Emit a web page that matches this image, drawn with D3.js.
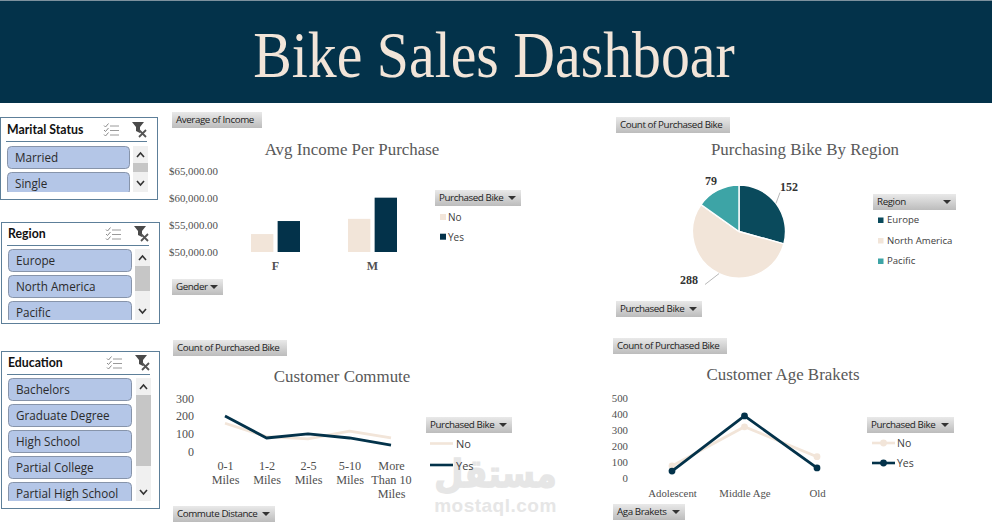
<!DOCTYPE html>
<html>
<head>
<meta charset="utf-8">
<title>Bike Sales Dashboard</title>
<script src="https://cdn.jsdelivr.net/npm/d3@7/dist/d3.min.js"></script>
<style>
  html, body { margin: 0; padding: 0; background: #fff; overflow: hidden; }
  svg { display: block; }
  .ui { font-family: "Open Sans", sans-serif; }
  .serif { font-family: "Liberation Serif", serif; }
</style>
</head>
<body>
<svg id="board" width="992" height="527"></svg>
<script>
// Dashboard content
const dashboardTitle = "Bike Sales Dashboar";
const purchaseKeys = ["No", "Yes"];

const genders = ["F", "M"];
const incomeNo = [53300, 56100];
const incomeYes = [55700, 60000];
const incomeTicks = [50000, 55000, 60000, 65000];

const regions = ["Europe", "North America", "Pacific"];
const regionCounts = [152, 288, 79];

const commuteLabels = ["0-1 Miles", "1-2 Miles", "2-5 Miles", "5-10 Miles", "More Than 10 Miles"];
const commuteNo = [160, 85, 72, 115, 78];
const commuteYes = [200, 77, 100, 77, 37];
const commuteTicks = [0, 100, 200, 300];

const ageLabels = ["Adolescent", "Middle Age", "Old"];
const ageNo = [77, 322, 135];
const ageYes = [45, 390, 65];
const ageTicks = [0, 100, 200, 300, 400, 500];

const maritalItems = ["Married", "Single"];
const regionItems = ["Europe", "North America", "Pacific"];
const educationItems = ["Bachelors", "Graduate Degree", "High School", "Partial College", "Partial High School"];

// Palette
const NAVY = "#03324a", CREAM = "#f2e5d9", TEAL_DARK = "#0a4a5c", TEAL = "#3da4a6";
const TITLE_GREY = "#595959", AXIS_GREY = "#505050";

const svg = d3.select("#board");
const defs = svg.append("defs");

const btnGrad = defs.append("linearGradient").attr("id", "btn").attr("x1", 0).attr("x2", 0).attr("y1", 0).attr("y2", 1);
btnGrad.append("stop").attr("offset", "0%").attr("stop-color", "#e9e9e9");
btnGrad.append("stop").attr("offset", "100%").attr("stop-color", "#bcbcbc");

// Banner
svg.append("rect").attr("width", 992).attr("height", 103).attr("fill", NAVY);
svg.append("rect").attr("width", 992).attr("height", 1).attr("fill", "#7d919e");
svg.append("text").attr("class", "serif")
  .attr("transform", "translate(494,77) scale(1,1.12)").attr("text-anchor", "middle")
  .attr("font-size", 57.8).attr("fill", CREAM)
  .text(dashboardTitle);

// Site watermark, underneath the charts
const mark = svg.append("g").attr("fill", "#e6e6e6");
mark.append("text").attr("transform", "translate(495.5,487) scale(1,1.15)").attr("text-anchor", "middle")
  .attr("font-family", "DejaVu Sans").attr("font-weight", "bold").attr("font-size", 33.5)
  .attr("stroke", "#e6e6e6").attr("stroke-width", 1.2)
  .text("مستقل");
mark.append("text").attr("x", 495.5).attr("y", 512).attr("text-anchor", "middle")
  .attr("font-family", "Liberation Sans").attr("font-weight", "bold").attr("font-size", 19)
  .attr("letter-spacing", 0.5).text("mostaql.com");

// Grey field button of a pivot chart, with optional drop arrow
function fieldButton(x, y, w, label, arrow) {
  const g = svg.append("g").attr("transform", `translate(${x},${y})`);
  g.append("rect").attr("width", w).attr("height", 16).attr("fill", "url(#btn)");
  g.append("text").attr("class", "ui").attr("x", 4).attr("y", 11)
    .attr("font-size", 9.8).attr("letter-spacing", -0.42).attr("fill", "#222").text(label);
  if (arrow) {
    const ax = w - 9;
    g.append("path").attr("d", `M${ax - 4},6 h8 l-4,4 z`).attr("fill", "#333");
  }
}

function chartTitle(x, y, label) {
  svg.append("text").attr("class", "serif").attr("x", x).attr("y", y)
    .attr("text-anchor", "middle").attr("font-size", 16.9).attr("fill", TITLE_GREY).text(label);
}

// Axis with no domain or tick marks, labels only
function styleAxis(g, size) {
  g.select(".domain").remove();
  g.selectAll(".tick line").remove();
  g.selectAll("text").attr("font-family", "Liberation Serif").attr("font-size", size).attr("fill", AXIS_GREY);
}

function legendText(x, y, label, size) {
  svg.append("text").attr("class", "ui").attr("x", x).attr("y", y)
    .attr("dominant-baseline", "central").attr("font-size", size).attr("fill", "#404040").text(label);
}

// Slicer panel
function slicer({ x, y, w, h, title, items, pillX, pillW, firstY, listBottom, ruleY, barX, thumb }) {
  const clipId = "clip" + title.replace(/\W/g, "");
  svg.append("rect").attr("x", x + 0.5).attr("y", y + 0.5).attr("width", w).attr("height", h)
    .attr("fill", "#fff").attr("stroke", "#5d7f99").attr("stroke-width", 1);
  svg.append("text").attr("x", pillX).attr("y", ruleY - 7)
    .attr("font-family", "Lato").attr("font-weight", "bold").attr("font-size", 12.3).attr("fill", "#111").text(title);
  svg.append("line").attr("x1", pillX - 1).attr("x2", barX + 14).attr("y1", ruleY + 0.5).attr("y2", ruleY + 0.5)
    .attr("stroke", "#5d7f99");

  // Multi-select icon
  const ix = barX - 29, iy = ruleY - 17;
  const icon = svg.append("g").attr("transform", `translate(${ix},${iy})`);
  [1.5, 6, 10.5].forEach(dy => {
    icon.append("path").attr("d", `M0,${dy} l1.5,1.5 l3,-3.5`).attr("fill", "none").attr("stroke", "#8a8a8a").attr("stroke-width", 1);
    icon.append("line").attr("x1", 6).attr("x2", 15).attr("y1", dy + 0.5).attr("y2", dy + 0.5).attr("stroke", "#9a9a9a");
  });

  // Clear-filter icon
  const cf = svg.append("g").attr("transform", `translate(${barX - 1},${iy - 2})`);
  cf.append("path").attr("d", "M0,0 h12 l-4,5 v6 l-4,-2 v-4 z").attr("fill", "#4a4a4a");
  cf.append("path").attr("d", "M7,8 l7,7 M14,8 l-7,7").attr("stroke", "#555").attr("stroke-width", 1.8);

  // Buttons, cut off at the bottom of the list area
  defs.append("clipPath").attr("id", clipId).append("rect")
    .attr("x", x).attr("y", firstY - 1).attr("width", w).attr("height", listBottom - firstY + 1);
  const list = svg.append("g").attr("clip-path", `url(#${clipId})`);
  const pillH = 23, pitch = 26;
  const row = list.selectAll("g").data(items).join("g")
    .attr("transform", (d, i) => `translate(${pillX},${firstY + i * pitch})`);
  row.append("rect").attr("x", 0.5).attr("y", 0.5).attr("width", pillW).attr("height", pillH - 1).attr("rx", 4)
    .attr("fill", "#b4c6e7").attr("stroke", "#8794aa");
  row.append("text").attr("class", "ui").attr("x", 8).attr("y", 16)
    .attr("font-size", 11.7).attr("fill", "#2b2b2b").text(d => d);

  // Scrollbar
  svg.append("rect").attr("x", barX).attr("y", firstY).attr("width", 15).attr("height", listBottom - firstY).attr("fill", "#f0f0f0");
  svg.append("rect").attr("x", barX).attr("y", thumb[0]).attr("width", 15).attr("height", thumb[1] - thumb[0]).attr("fill", "#c6c6c6");
  svg.append("path").attr("d", `M${barX + 4},${firstY + 11} l3.5,-4 l3.5,4`).attr("fill", "none").attr("stroke", "#333").attr("stroke-width", 1.6);
  svg.append("path").attr("d", `M${barX + 4},${listBottom - 11} l3.5,4 l3.5,-4`).attr("fill", "none").attr("stroke", "#333").attr("stroke-width", 1.6);
}

slicer({ x: 0, y: 117, w: 157, h: 82, title: "Marital Status", items: maritalItems, pillX: 7, pillW: 122, firstY: 146, listBottom: 192, ruleY: 141, barX: 133, thumb: [163, 172] });
slicer({ x: 1, y: 222, w: 158, h: 101, title: "Region", items: regionItems, pillX: 8, pillW: 123, firstY: 249, listBottom: 320, ruleY: 245, barX: 135, thumb: [266, 291] });
slicer({ x: 1, y: 351, w: 158, h: 157, title: "Education", items: educationItems, pillX: 8, pillW: 123, firstY: 378, listBottom: 501, ruleY: 374, barX: 136, thumb: [395, 466] });

// ---- Average income: clustered columns ----
fieldButton(172, 112, 90, "Average of Income");
chartTitle(352, 155, "Avg Income Per Purchase");

const incomeY = d3.scaleLinear().domain([50000, 65000]).range([252, 170.5]);
const genderX = d3.scaleBand().domain(genders).range([227, 421]);
const keyX = d3.scaleBand().domain(purchaseKeys).range([-24.5, 24.5]).paddingInner(0.16);

svg.append("g").attr("transform", "translate(224,0)")
  .call(d3.axisLeft(incomeY).tickValues(incomeTicks).tickFormat(d3.format("$,.2f")).tickPadding(0))
  .call(styleAxis, 10.9);

const incomeRows = genders.map((g, i) => ({ g, No: incomeNo[i], Yes: incomeYes[i] }));
const incomeGroups = svg.append("g").selectAll("g").data(incomeRows).join("g")
  .attr("transform", d => `translate(${genderX(d.g) + genderX.bandwidth() / 2},0)`);
incomeGroups.selectAll("rect").data(d => purchaseKeys.map(k => ({ k, v: d[k] }))).join("rect")
  .attr("x", d => keyX(d.k)).attr("width", keyX.bandwidth())
  .attr("y", d => incomeY(d.v)).attr("height", d => incomeY(50000) - incomeY(d.v))
  .attr("fill", d => d.k === "No" ? CREAM : NAVY);

svg.append("g").attr("transform", "translate(0,249)")
  .call(d3.axisBottom(genderX).tickPadding(6))
  .call(styleAxis, 12)
  .call(g => g.selectAll("text").attr("font-weight", "bold"));

fieldButton(172, 279, 51, "Gender", true);
fieldButton(435, 190, 86, "Purchased Bike", true);
purchaseKeys.forEach((k, i) => {
  const cy = 217 + i * 19.7;
  svg.append("rect").attr("x", 440).attr("y", cy - 3).attr("width", 6).attr("height", 6).attr("fill", k === "No" ? CREAM : NAVY);
  legendText(448, cy, k, 10);
});

// ---- Region pie ----
fieldButton(616, 117, 114, "Count of Purchased Bike");
chartTitle(805, 155, "Purchasing Bike By Region");

const regionColor = d3.scaleOrdinal().domain(regions).range([TEAL_DARK, CREAM, TEAL]);
const pieCentre = [739, 231.5], pieR = 46.5;
const slices = d3.pie().sort(null).value((d, i) => regionCounts[i])(regions);
const sliceArc = d3.arc().innerRadius(0).outerRadius(pieR);
const pieG = svg.append("g").attr("transform", `translate(${pieCentre})`);
pieG.selectAll("path").data(slices).join("path")
  .attr("d", sliceArc).attr("fill", d => regionColor(d.data))
  .attr("stroke", "#fff").attr("stroke-width", 1.4);

// Value labels sit off the rim; two of them carry a thin leader line
const labelOffset = { "Europe": [50, -41], "North America": [-50, 52], "Pacific": [-28, -47] };
const leaderStart = { "Europe": [41, -39], "North America": [-34, 53] };
slices.forEach(s => {
  const [lx, ly] = labelOffset[s.data];
  const mid = (s.startAngle + s.endAngle) / 2;
  if (leaderStart[s.data]) {
    const rim = [Math.sin(mid) * pieR, -Math.cos(mid) * pieR];
    pieG.append("path").attr("fill", "none").attr("stroke", "#a6a6a6").attr("stroke-width", 0.8)
      .attr("d", d3.line()([leaderStart[s.data], rim]));
  }
  pieG.append("text").attr("class", "serif").attr("x", lx).attr("y", ly)
    .attr("text-anchor", "middle").attr("font-size", 12).attr("font-weight", "bold").attr("fill", "#333")
    .text(regionCounts[regions.indexOf(s.data)]);
});

fieldButton(616, 301, 86, "Purchased Bike", true);
fieldButton(873, 194, 83, "Region", true);
regions.forEach((r, i) => {
  const cy = 220 + i * 20.5;
  svg.append("rect").attr("x", 878).attr("y", cy - 2.5).attr("width", 5.5).attr("height", 5.5).attr("fill", regionColor(r));
  legendText(887, cy - 0.5, r, 9.6);
});

// ---- Line charts ----
function drawLines({ xs, yScale, noVals, yesVals, width, markers }) {
  const line = d3.line().x((d, i) => xs[i]).y(d => yScale(d));
  [[noVals, CREAM], [yesVals, NAVY]].forEach(([vals, color]) => {
    svg.append("path").attr("d", line(vals)).attr("fill", "none")
      .attr("stroke", color).attr("stroke-width", width).attr("stroke-linejoin", "round");
    if (markers) {
      svg.append("g").selectAll("circle").data(vals).join("circle")
        .attr("cx", (d, i) => xs[i]).attr("cy", d => yScale(d)).attr("r", 3.4).attr("fill", color);
    }
  });
}

function lineLegend(lineX, textX, rows, markers) {
  purchaseKeys.forEach((k, i) => {
    const color = k === "No" ? CREAM : NAVY;
    svg.append("line").attr("x1", lineX).attr("x2", lineX + 23).attr("y1", rows[i]).attr("y2", rows[i])
      .attr("stroke", color).attr("stroke-width", 2.6);
    if (markers) svg.append("circle").attr("cx", lineX + 11.5).attr("cy", rows[i]).attr("r", 3.4).attr("fill", color);
    legendText(textX, rows[i], k, markers ? 10.5 : 11);
  });
}

// Wrap a category label to the width of its slot
function wrapLabels(sel, maxW) {
  sel.each(function () {
    const t = d3.select(this), words = t.text().split(" ");
    t.text(null);
    let cur = [];
    let span = t.append("tspan").attr("x", 0).attr("dy", 0);
    words.forEach(w => {
      cur.push(w);
      span.text(cur.join(" "));
      if (span.node().getComputedTextLength() > maxW && cur.length > 1) {
        cur.pop();
        span.text(cur.join(" "));
        cur = [w];
        span = t.append("tspan").attr("x", 0).attr("dy", 14).text(w);
      }
    });
  });
}

// Commute distance
fieldButton(173, 340, 114, "Count of Purchased Bike");
chartTitle(342, 382, "Customer Commute");
const commuteY = d3.scaleLinear().domain([0, 300]).range([451.7, 398.3]);
const commuteX = d3.scalePoint().domain(commuteLabels).range([225, 391]);
svg.append("g").attr("transform", "translate(200,0)")
  .call(d3.axisLeft(commuteY).tickValues(commuteTicks).tickPadding(0))
  .call(styleAxis, 12);
svg.append("g").attr("transform", "translate(0,464)")
  .call(d3.axisBottom(commuteX).tickPadding(0))
  .call(styleAxis, 12.2)
  .call(g => g.selectAll("text").call(wrapLabels, 42));
drawLines({ xs: commuteLabels.map(c => commuteX(c)), yScale: commuteY, noVals: commuteNo, yesVals: commuteYes, width: 2.8, markers: false });
fieldButton(173, 506, 102, "Commute Distance", true);
fieldButton(426, 417, 86, "Purchased Bike", true);
lineLegend(430, 456, [443.5, 465], false);

// Age brackets
fieldButton(613, 338, 114, "Count of Purchased Bike");
chartTitle(783, 380, "Customer Age Brakets");
const ageY = d3.scaleLinear().domain([0, 500]).range([478.3, 398.3]);
const ageX = d3.scalePoint().domain(ageLabels).range([672, 817]);
svg.append("g").attr("transform", "translate(634,0)")
  .call(d3.axisLeft(ageY).tickValues(ageTicks).tickPadding(0))
  .call(styleAxis, 10.8);
svg.append("g").attr("transform", "translate(0,483)")
  .call(d3.axisBottom(ageX).tickPadding(0))
  .call(styleAxis, 10.8);
drawLines({ xs: ageLabels.map(a => ageX(a)), yScale: ageY, noVals: ageNo, yesVals: ageYes, width: 2.8, markers: true });
fieldButton(613, 504, 72, "Aga Brakets", true);
fieldButton(867, 417, 87, "Purchased Bike", true);
lineLegend(872, 897, [443, 463], true);
</script>
</body>
</html>
